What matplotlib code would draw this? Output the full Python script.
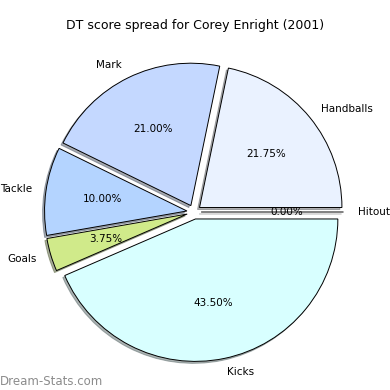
import matplotlib
matplotlib.use("Agg")
import matplotlib.pyplot as plt

labels = ["Handballs", "Mark", "Tackle", "Goals", "Kicks", "Hitout"]
values = [21.75, 21.00, 10.00, 3.75, 43.50, 0.00]
colors = ["#eaf2ff", "#c4d8ff", "#b4d4ff", "#d0ea8a", "#d8ffff", "#ffffff"]
explode = [0.05, 0.05, 0.05, 0.05, 0.05, 0.05]

fig = plt.figure(figsize=(3.9, 3.9), dpi=100)
ax = fig.add_axes([16 / 390, 0 / 390, 356 / 390, 356 / 390])

wedges, texts, autotexts = ax.pie(
    values, labels=labels, colors=colors, explode=explode,
    autopct="%1.2f%%", shadow={"ox": -0.01, "oy": -0.01, "shade": 0.6},
    startangle=0, counterclock=True,
    wedgeprops={"edgecolor": "black", "linewidth": 0.7},
    textprops={"fontsize": 7.5},
)
ax.set_aspect("equal")

fig.text(0.5, 0.935, "DT score spread for Corey Enright (2001)",
         ha="center", va="center", fontsize=9)
fig.text(0.0, 0.022, "Dream-Stats.com", ha="left", va="center",
         fontsize=8.5, color="#8c8c8c")

fig.savefig("out.png", dpi=100)
